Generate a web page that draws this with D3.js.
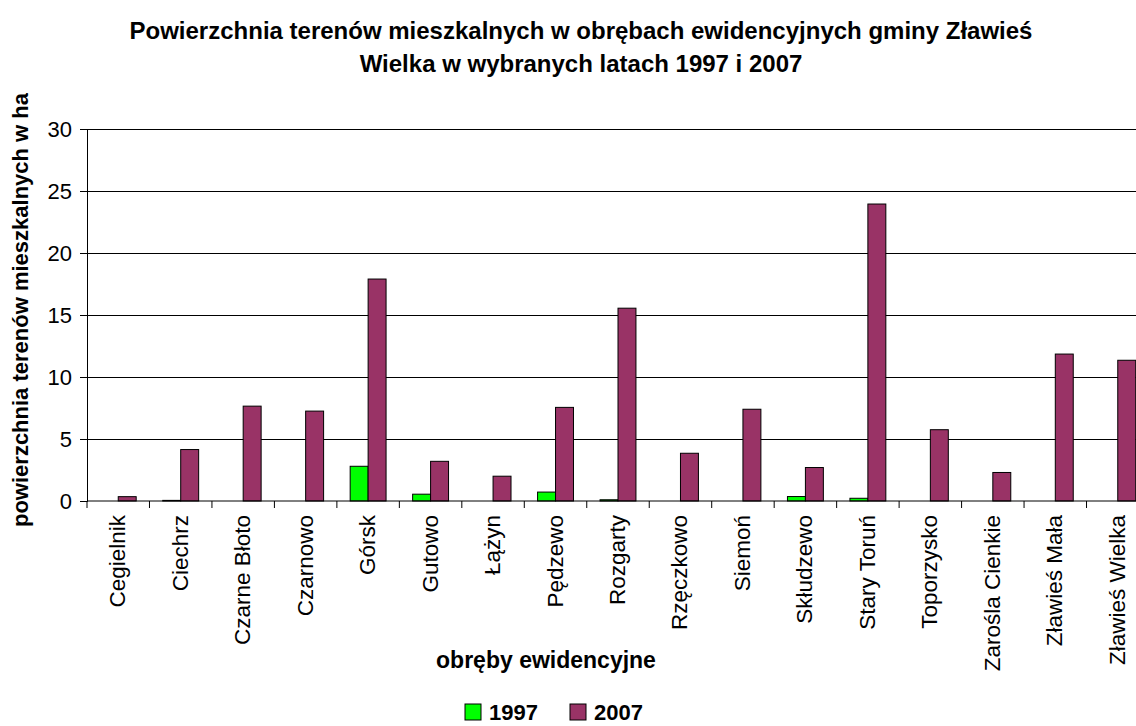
<!DOCTYPE html>
<html>
<head>
<meta charset="utf-8">
<script src="https://cdn.jsdelivr.net/npm/d3@7"></script>
<style>
  body { margin: 0; background: #fff; }
  text { font-family: "Liberation Sans", Arial, sans-serif; }
</style>
</head>
<body>
<svg id="chart" width="1136" height="726"></svg>
<script>
const categories = ['Cegielnik', 'Ciechrz', 'Czarne Błoto', 'Czarnowo', 'Górsk', 'Gutowo', 'Łążyn',
	'Pędzewo', 'Rozgarty', 'Rzęczkowo', 'Siemoń', 'Skłudzewo', 'Stary Toruń', 'Toporzysko',
	'Zarośla Cienkie', 'Zławieś Mała', 'Zławieś Wielka'];
const years = ['1997', '2007'];
const values1997 = [0, 0.05, 0, 0, 2.8, 0.55, 0, 0.72, 0.1, 0, 0, 0.36, 0.22, 0, 0, 0, 0];
const values2007 = [0.35, 4.15, 7.65, 7.25, 17.9, 3.2, 2.0, 7.55, 15.55, 3.85, 7.4, 2.7, 23.95, 5.75, 2.3, 11.85, 11.35];
const yTicks = [0, 5, 10, 15, 20, 25, 30];
const colors = { '1997': '#00ff00', '2007': '#993366' };

const svg = d3.select('#chart');
const margin = { left: 87, right: -13, top: 129, bottom: 225 };
const width = 1136, height = 726;

const x = d3.scaleBand()
	.domain(categories)
	.range([margin.left, width - margin.right]);

const xInner = d3.scaleBand()
	.domain(years)
	.range([0, x.bandwidth()])
	.paddingOuter(0.74);

const y = d3.scaleLinear()
	.domain([0, 30])
	.range([height - margin.bottom, margin.top]);

// Gridlines
svg.append('g')
	.selectAll('line')
	.data(yTicks.filter((d) => d > 0))
	.join('line')
	.attr('x1', margin.left)
	.attr('x2', width - margin.right)
	.attr('y1', (d) => Math.round(y(d)) + 0.5)
	.attr('y2', (d) => Math.round(y(d)) + 0.5)
	.attr('stroke', '#000')
	.attr('stroke-width', 1);

// Bars
const rows = categories.map((c, i) => ({ cat: c, vals: [values1997[i], values2007[i]] }));
svg.append('g')
	.selectAll('g')
	.data(rows)
	.join('g')
	.attr('transform', (d) => `translate(${x(d.cat)},0)`)
	.selectAll('rect')
	.data((d) => d.vals.map((v, j) => ({ year: years[j], value: v })))
	.join('rect')
	.attr('x', (d) => xInner(d.year))
	.attr('width', xInner.bandwidth())
	.attr('y', (d) => y(d.value))
	.attr('height', (d) => y(0) - y(d.value))
	.attr('fill', (d) => colors[d.year])
	.attr('stroke', '#000')
	.attr('stroke-width', 1);

// Y axis
const yAxis = svg.append('g')
	.attr('transform', `translate(${margin.left},0)`)
	.call(d3.axisLeft(y).tickValues(yTicks).tickSize(7).tickPadding(8));
yAxis.select('.domain').attr('stroke', '#000');
yAxis.selectAll('text')
	.attr('font-size', 22)
	.attr('fill', '#000')
	.style('font-family', '"Liberation Sans", Arial, sans-serif');

// X axis: ticks at band boundaries
const xAxis = svg.append('g')
	.attr('transform', `translate(0,${y(0)})`);
xAxis.append('line')
	.attr('x1', margin.left)
	.attr('x2', width - margin.right)
	.attr('stroke', '#000');
xAxis.selectAll('.tick')
	.data(categories.concat(['end']))
	.join('line')
	.attr('class', 'tick')
	.attr('x1', (d, i) => i < categories.length ? x(d) : x(categories[i - 1]) + x.bandwidth())
	.attr('x2', (d, i) => i < categories.length ? x(d) : x(categories[i - 1]) + x.bandwidth())
	.attr('y1', 0)
	.attr('y2', 7)
	.attr('stroke', '#000');
xAxis.selectAll('.label')
	.data(categories)
	.join('text')
	.attr('class', 'label')
	.attr('transform', (d) => `translate(${x(d) + x.bandwidth() / 2 + 7},14) rotate(-90)`)
	.attr('text-anchor', 'end')
	.attr('font-size', 22.5)
	.attr('fill', '#000')
	.text((d) => d);

// Titles
svg.append('text')
	.attr('x', 581)
	.attr('y', 39)
	.attr('text-anchor', 'middle')
	.attr('font-size', 24)
	.attr('font-weight', 'bold')
	.text('Powierzchnia terenów mieszkalnych w obrębach ewidencyjnych gminy Zławieś');
svg.append('text')
	.attr('x', 581)
	.attr('y', 72)
	.attr('text-anchor', 'middle')
	.attr('font-size', 24)
	.attr('font-weight', 'bold')
	.text('Wielka w wybranych latach 1997 i 2007');

svg.append('text')
	.attr('transform', `translate(28,310) rotate(-90)`)
	.attr('text-anchor', 'middle')
	.attr('font-size', 22)
	.attr('font-weight', 'bold')
	.text('powierzchnia terenów mieszkalnych w ha');

svg.append('text')
	.attr('x', 546)
	.attr('y', 668)
	.attr('text-anchor', 'middle')
	.attr('font-size', 23)
	.attr('font-weight', 'bold')
	.text('obręby ewidencyjne');

// Legend
const legend = svg.append('g')
	.selectAll('g')
	.data(years)
	.join('g')
	.attr('transform', (d, i) => `translate(${465 + i * 105},704)`);
legend.append('rect')
	.attr('width', 16)
	.attr('height', 16)
	.attr('fill', (d) => colors[d])
	.attr('stroke', '#000');
legend.append('text')
	.attr('x', 24)
	.attr('y', 16)
	.attr('font-size', 22)
	.attr('font-weight', 'bold')
	.text((d) => d);
</script>
</body>
</html>
